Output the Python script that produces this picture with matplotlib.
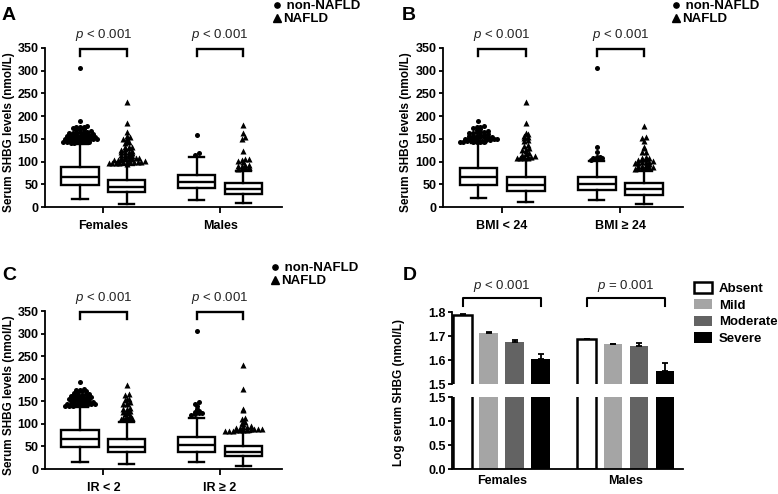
import numpy as np
import matplotlib
matplotlib.use('Agg')
import matplotlib.pyplot as plt
from matplotlib.lines import Line2D
from matplotlib.patches import Patch

plt.rcParams['font.family'] = ['Liberation Sans', 'DejaVu Sans']
plt.rcParams['mathtext.fontset'] = 'custom'
plt.rcParams['mathtext.rm'] = 'Liberation Sans'
plt.rcParams['mathtext.it'] = 'Liberation Sans:italic'

# ---- data: box plot stats (q1, median, q3, whisker low, whisker high) ----
# panel A
a_cats = ['Females', 'Males']
a_non = [(47.5, 66, 87, 18, 139), (41.5, 55, 70, 15, 109)]
a_naf = [(32, 45, 60, 6, 93), (28, 39, 52, 9, 80)]
a_non_out = [
    [141, 141, 142, 142, 143, 143, 144, 144, 145, 145, 146, 146,
     148, 148, 149, 149, 150, 150, 151, 151, 152, 152, 153,
     155, 155, 156, 156, 157, 157, 158, 158, 159, 160,
     162, 163, 163, 164, 165, 166, 167,
     170, 171, 172, 174, 175, 176, 177, 178, 190, 305],
    [115, 118, 158]]
a_naf_out = [
    [95, 96, 96, 97, 97, 98, 98, 99, 99, 100, 100, 101,
     103, 104, 104, 105, 105, 106, 107, 107, 108,
     110, 112, 113, 114, 115, 116, 118, 120, 121, 122, 123,
     126, 128, 130, 131, 132, 133, 140, 143, 145, 150, 152, 155, 157,
     165, 185, 232],
    [84, 86, 88, 89, 90, 91, 92, 93, 100, 102, 104, 105, 106, 124,
     150, 153, 162, 180]]

# panel B
b_cats = ['BMI < 24', 'BMI \u2265 24']
b_non = [(47.5, 66, 86, 19, 140), (38, 51, 65, 15, 102)]
b_naf = [(36, 49, 65, 11, 105), (27, 40, 53, 7, 79)]
b_non_out = [
    [142, 142, 143, 143, 144, 144, 145, 145, 146, 146, 146,
     148, 148, 149, 149, 150, 151, 151, 152, 153, 153,
     155, 155, 156, 157, 157, 158, 159, 160,
     162, 163, 164, 165, 166, 167,
     170, 172, 174, 175, 176, 178, 190],
    [104, 105, 106, 107, 108, 110, 111, 121, 131, 305]]
b_naf_out = [
    [107, 107, 108, 108, 109, 110, 111, 112, 115, 117, 119,
     124, 126, 128, 130, 135, 137, 145, 147, 152, 154, 156,
     160, 163, 185, 232],
    [84, 85, 86, 87, 88, 89, 90, 91, 92, 95, 96, 97, 98, 99, 100, 101,
     104, 105, 106, 107, 108, 109, 120, 122, 130, 133, 146, 151, 154, 179]]

# panel C
c_cats = ['IR < 2', 'IR \u2265 2']
c_non = [(48, 67, 87, 15, 137), (38.5, 53, 70, 16, 113)]
c_naf = [(37, 49.5, 66.5, 11, 105), (28, 38.5, 50, 7, 82)]
c_non_out = [
    [139, 140, 140, 141, 141, 142, 142, 143, 143, 144, 145, 145,
     147, 148, 148, 149, 149, 150, 151, 151, 152, 153,
     155, 156, 156, 157, 158, 158, 159, 160,
     162, 163, 164, 165, 166, 167,
     169, 170, 172, 173, 175, 176, 178, 192],
    [120, 122, 124, 125, 127, 129, 133, 140, 145, 148, 305]]
c_naf_out = [
    [110, 111, 112, 113, 114, 116, 117, 122, 124, 126, 127, 128,
     132, 134, 136, 143, 145, 147, 148, 152, 154, 156, 163, 166, 186],
    [84, 85, 85, 86, 86, 87, 87, 88, 88, 89, 89, 90, 91, 92, 93, 95,
     100, 103, 105, 110, 112, 131, 134, 178, 231]]

# panel D: log SHBG means and upper SEM
d_groups = ['Females', 'Males']
d_levels = ['Absent', 'Mild', 'Moderate', 'Severe']
d_mean = [[1.789, 1.713, 1.673, 1.603], [1.686, 1.665, 1.658, 1.555]]
d_sem = [[0.003, 0.003, 0.009, 0.022], [0.003, 0.003, 0.011, 0.031]]
d_colors = ['white', '#a5a5a5', '#636363', 'black']

W, H = 778, 494
fig = plt.figure(figsize=(W / 100, H / 100), dpi=100)


def fx(px):
    return px / W


def fy(px):
    return 1 - px / H


def swarm(vals, center, step=0.032, binw=6):
    vals = np.asarray(vals, float)
    xs = np.empty_like(vals)
    bins = np.floor(vals / binw)
    for b in np.unique(bins):
        idx = np.where(bins == b)[0]
        n = len(idx)
        xs[idx] = center + (np.arange(n) - (n - 1) / 2) * step
    return xs


def box_panel(rect, cats, non, naf, non_out, naf_out, letter, letter_xy, leg_xy, lab_x):
    ax = fig.add_axes(rect)
    stats, pos = [], []
    for i in range(len(cats)):
        for s, off in ((non[i], -0.2), (naf[i], 0.2)):
            q1, med, q3, lo, hi = s
            stats.append(dict(q1=q1, med=med, q3=q3, whislo=lo, whishi=hi, fliers=[]))
            pos.append(i + off)
    lw = 1.7
    ax.bxp(stats, positions=pos, widths=0.32, showfliers=False, patch_artist=True,
           boxprops=dict(facecolor='white', edgecolor='black', linewidth=lw),
           medianprops=dict(color='black', linewidth=lw),
           whiskerprops=dict(color='black', linewidth=lw),
           capprops=dict(color='black', linewidth=lw), capwidths=0.13)
    for i in range(len(cats)):
        ax.scatter(swarm(non_out[i], i - 0.2), non_out[i], s=13, marker='o',
                   color='black', linewidths=0, zorder=3, clip_on=False)
        ax.scatter(swarm(naf_out[i], i + 0.2, step=0.031), naf_out[i], s=19, marker='^',
                   color='black', linewidths=0, zorder=3, clip_on=False)
        # bracket + p value
        ax.plot([i - 0.2, i - 0.2, i + 0.2, i + 0.2], [333, 347, 347, 333],
                color='black', lw=1.7, clip_on=False, solid_joinstyle='miter')
        ax.text(i, 362, r'$\it{p}$ < 0.001', ha='center', va='bottom',
                fontsize=9.5, color='#222222', clip_on=False)
    ax.set_xlim(-0.5, 1.53)
    ax.set_ylim(0, 350)
    ax.set_yticks(range(0, 351, 50))
    ax.set_xticks(range(len(cats)))
    ax.set_xticklabels(cats)
    for sp in ('top', 'right'):
        ax.spines[sp].set_visible(False)
    for sp in ('left', 'bottom'):
        ax.spines[sp].set_linewidth(1.3)
    ax.tick_params(axis='y', length=3, width=1.3, pad=1.5, labelsize=9)
    ax.tick_params(axis='x', length=4, width=1.3, pad=5, labelsize=9)
    for t in ax.get_xticklabels() + ax.get_yticklabels():
        t.set_fontweight('bold')
    ax.set_ylabel('Serum SHBG levels (nmol/L)', fontsize=8.5, fontweight='bold')
    ax.yaxis.set_label_coords(lab_x, 0.47)
    fig.text(fx(letter_xy[0]), fy(letter_xy[1]), letter, fontsize=14,
             fontweight='bold', va='center', ha='left')
    handles = [Line2D([], [], ls='', marker='o', color='black', ms=3.8),
               Line2D([], [], ls='', marker='^', color='black', ms=5.5)]
    ax.legend(handles, [' non-NAFLD', 'NAFLD'], loc='upper left',
              bbox_to_anchor=(fx(leg_xy[0]), fy(leg_xy[1])), bbox_transform=fig.transFigure,
              frameon=False, handlelength=0.6, handletextpad=0.15, labelspacing=0.05,
              borderpad=0, borderaxespad=0, prop=dict(size=9.5, weight='bold'))
    return ax


box_panel([fx(45), fy(207), fx(237), 159 / H], a_cats, a_non, a_naf, a_non_out,
          a_naf_out, 'A', (2, 15), (273, 0), -0.125)
box_panel([fx(443), fy(207), fx(240), 159 / H], b_cats, b_non, b_naf, b_non_out,
          b_naf_out, 'B', (402, 15), (672, 0), -0.13)
box_panel([fx(45), fy(469), fx(237), 158 / H], c_cats, c_non, c_naf, c_non_out,
          c_naf_out, 'C', (2, 275), (271, 262), -0.125)

# ---- panel D: broken-axis bar chart ----
left, right = 452, 683
axU = fig.add_axes([fx(left), fy(384), fx(right - left), 72 / H])
axL = fig.add_axes([fx(left), fy(469), fx(right - left), 72 / H])
offs = [-0.315, -0.105, 0.105, 0.315]
bw = 0.15
for gi in range(len(d_groups)):
    for j in range(len(d_levels)):
        x = gi + offs[j]
        for ax in (axU, axL):
            ax.bar(x, d_mean[gi][j], width=bw, color=d_colors[j],
                   edgecolor='black', linewidth=1.8 if j == 0 else 0)
        axU.errorbar(x, d_mean[gi][j], yerr=[[0], [d_sem[gi][j]]], fmt='none',
                     ecolor='black', elinewidth=1.3, capsize=2.5, capthick=1.3)

for ax in (axU, axL):
    ax.set_xlim(-0.4, 1.46)
    for sp in ('top', 'right'):
        ax.spines[sp].set_visible(False)
    ax.spines['left'].set_linewidth(1.3)
    ax.spines['bottom'].set_linewidth(1.3)
    ax.tick_params(axis='y', length=3, width=1.3, pad=1.5, labelsize=9)
axU.set_ylim(1.5, 1.8)
axU.set_yticks([1.5, 1.6, 1.7, 1.8])
axU.set_yticklabels(['1.5', '1.6', '1.7', '1.8'])
axU.spines['bottom'].set_visible(False)
axU.set_xticks([])
axL.set_ylim(0, 1.5)
axL.set_yticks([0, 0.5, 1.0, 1.5])
axL.set_yticklabels(['0.0', '0.5', '1.0', '1.5'])
axL.set_xticks(range(len(d_groups)))
axL.set_xticklabels(d_groups)
axL.tick_params(axis='x', length=0, pad=4, labelsize=9)
for t in axL.get_xticklabels() + axL.get_yticklabels() + axU.get_yticklabels():
    t.set_fontweight('bold')

d_ptext = [r'$\it{p}$ < 0.001', r'$\it{p}$ = 0.001']
for gi in range(len(d_groups)):
    x0, x1 = gi + offs[0], gi + offs[-1]
    axU.plot([x0, x0, x1, x1], [1.825, 1.858, 1.858, 1.825], color='black', lw=1.5,
             clip_on=False)
    axU.text(gi, 1.875, d_ptext[gi], ha='center', va='bottom', fontsize=9.5,
             color='#222222', clip_on=False)

fig.text(fx(399), fy(392), 'Log serum SHBG (nmol/L)', rotation=90, ha='center',
         va='center', fontsize=8.5, fontweight='bold')
fig.text(fx(403), fy(275), 'D', fontsize=14, fontweight='bold', va='center', ha='left')

leg_handles = [Patch(facecolor=c, edgecolor='black', linewidth=1.8 if c == 'white' else 0)
               for c in d_colors]
axU.legend(leg_handles, d_levels, loc='upper left', bbox_to_anchor=(fx(694), fy(282)),
           bbox_transform=fig.transFigure, frameon=False, handlelength=1.4,
           handleheight=0.85, handletextpad=0.5, labelspacing=0.3, borderpad=0,
           borderaxespad=0, prop=dict(size=9.5, weight='bold'))

fig.savefig('out.png', dpi=100)
